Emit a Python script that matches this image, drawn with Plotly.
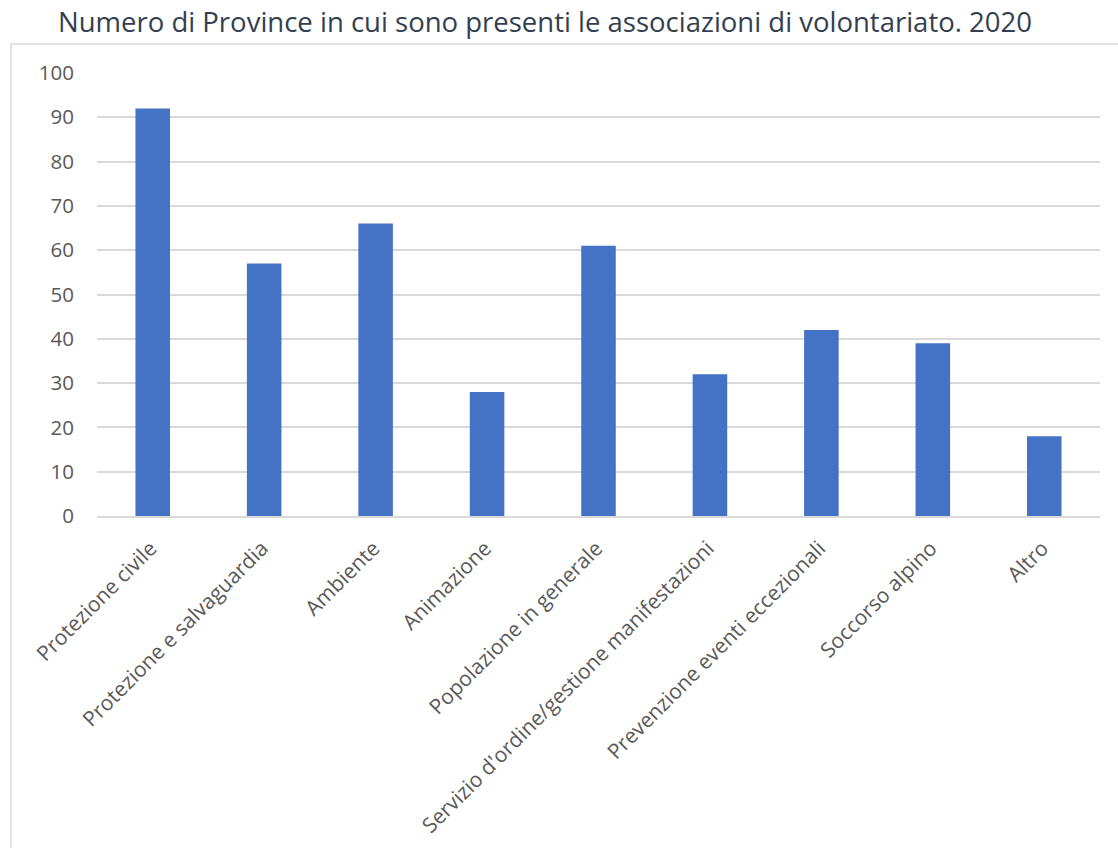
import plotly.graph_objects as go

categories = [
    "Protezione civile",
    "Protezione e salvaguardia",
    "Ambiente",
    "Animazione",
    "Popolazione in generale",
    "Servizio d'ordine/gestione manifestazioni",
    "Prevenzione eventi eccezionali",
    "Soccorso alpino",
    "Altro",
]
province_count = [92, 57, 66, 28, 61, 32, 42, 39, 18]
y_ticks = list(range(0, 101, 10))

W, H = 1118, 848
L, R, T, B = 97, 18, 73, 332
pw, ph = W - L - R, H - T - B

fig = go.Figure(
    go.Bar(
        x=categories,
        y=province_count,
        marker=dict(color="#4472C4", line=dict(width=0)),
        width=0.31,
    )
)

# outer chart frame (partly cropped at right/bottom)
fig.add_shape(
    type="rect", xref="paper", yref="paper",
    x0=(11 - L) / pw, x1=(1130 - L) / pw,
    y0=-(870 - (H - B)) / ph, y1=((H - B) - 44) / ph,
    line=dict(color="#D9D9D9", width=1.5), fillcolor="rgba(0,0,0,0)",
    layer="below",
)

fig.update_layout(
    width=W, height=H,
    margin=dict(l=L, r=R, t=T, b=B),
    paper_bgcolor="white", plot_bgcolor="white",
    showlegend=False,
    title=dict(
        text="Numero di Province in cui sono presenti le associazioni di volontariato. 2020",
        x=0.4875, xanchor="center", y=1 - 22 / H, yanchor="middle",
        font=dict(family="Open Sans", size=27.5, color="#333F50"),
    ),
    font=dict(family="Open Sans", color="#595959"),
)
fig.update_yaxes(
    range=[0, 100], tickvals=y_ticks, automargin=False,
    showgrid=True, gridcolor="#D9D9D9", gridwidth=1.5,
    zeroline=False, showline=False, ticks="",
    tickfont=dict(size=20.5, color="#595959"),
    ticklabelstandoff=22,
)
fig.update_xaxes(
    tickangle=-45, ticks="", automargin=False,
    showline=True, linecolor="#D9D9D9", linewidth=1.5,
    tickfont=dict(size=21, color="#595959"),
    ticklabelshift=-2, ticklabelstandoff=10,
)

fig.write_html("out.html")
